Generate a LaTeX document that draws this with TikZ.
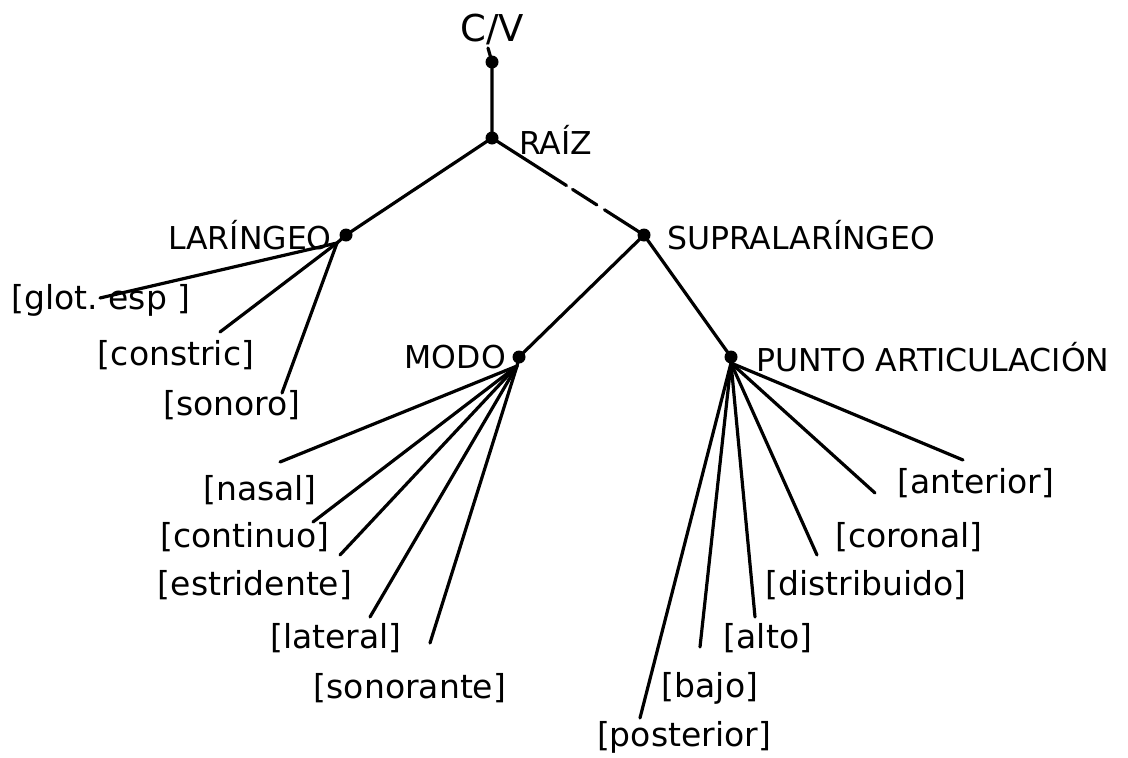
\documentclass[tikz,border=0pt]{standalone}
\usepackage{fontspec}
\setmainfont{DejaVu Sans}
\usetikzlibrary{calc}
\begin{document}
\begin{tikzpicture}[x=1pt,y=-1pt,
  branch/.style={line width=3.2pt,line cap=round},
  knot/.style={circle,fill=black,inner sep=0pt,minimum size=13pt},
  cat/.style={inner sep=0pt,font=\fontsize{31.5}{34}\selectfont},
  feat/.style={inner sep=0pt,font=\fontsize{33}{36}\selectfont}]
\useasboundingbox (0,0) rectangle (1128,758);

% category nodes
\node[inner sep=0pt,font=\fontsize{37}{40}\selectfont] (cv) at (492,29) {C/V};
\node[knot] (cvdot) at (492,62) {};
\node[knot] (raiz) at (492,138) {};
\node[cat,anchor=west] (raizl) at (519,140) {RAÍZ};
\node[knot] (lar) at (346,235) {};
\node[cat,anchor=east] (larl) at (332,235) {LARÍNGEO};
\node[knot] (sup) at (644,235) {};
\node[cat,anchor=west] (supl) at (667,235) {SUPRALARÍNGEO};
\node[knot] (modo) at (519,357) {};
\node[cat,anchor=east] (modol) at (506,357) {MODO};
\node[knot] (pa) at (731,357) {};
\node[cat,anchor=west] (pal) at (756,357) {PUNTO ARTICULACIÓN};

% hubs where the feature lines fan out
\coordinate (larh) at (337,243);
\coordinate (modoh) at (517,366);
\coordinate (pah) at (731,363);
\coordinate (cvtop) at (488,48);

% feature labels
\node[feat] (glot) at (101,300) {[glot.\ esp ]};
\node[feat] (constric) at (176,355) {[constric]};
\node[feat] (sonoro) at (232,405) {[sonoro]};
\node[feat] (nasal) at (260,490) {[nasal]};
\node[feat] (continuo) at (245,537) {[continuo]};
\node[feat] (estridente) at (255,585) {[estridente]};
\node[feat] (lateral) at (336,638) {[lateral]};
\node[feat] (sonorante) at (410,688) {[sonorante]};
\node[feat] (anterior) at (976,483) {[anterior]};
\node[feat] (coronal) at (909,537) {[coronal]};
\node[feat] (distribuido) at (866,585) {[distribuido]};
\node[feat] (alto) at (768,638) {[alto]};
\node[feat] (bajo) at (710,688) {[bajo]};
\node[feat] (posterior) at (684,737) {[posterior]};

% free ends of the feature lines
\coordinate (eglot) at (100,298);
\coordinate (econstric) at (220,332);
\coordinate (esonoro) at (282,393);
\coordinate (enasal) at (280,462);
\coordinate (econtinuo) at (313,522);
\coordinate (eestridente) at (340,555);
\coordinate (elateral) at (370,617);
\coordinate (esonorante) at (430,643);
\coordinate (eanterior) at (963,460);
\coordinate (ecoronal) at (875,493);
\coordinate (edistribuido) at (817,555);
\coordinate (ealto) at (755,617);
\coordinate (ebajo) at (700,647);
\coordinate (eposterior) at (640,718);

% tree
\draw[branch] (cvtop) -- (cvdot.center) -- (raiz.center);
\draw[branch] (raiz.center) -- (lar.center);
\draw[branch] (raiz.center) -- ($(raiz.center)!0.49!(sup.center)$);
\draw[branch] ($(raiz.center)!0.53!(sup.center)$) -- ($(raiz.center)!0.69!(sup.center)$);
\draw[branch] ($(raiz.center)!0.74!(sup.center)$) -- (sup.center);
\draw[branch] (sup.center) -- (modo.center);
\draw[branch] (sup.center) -- (pa.center);
\draw[branch] (lar.center) -- (larh);
\draw[branch] (modo.center) -- (modoh);
\draw[branch] (pa.center) -- (pah);

% features
\foreach \e in {eglot,econstric,esonoro}
  \draw[branch] (larh) -- (\e);
\foreach \e in {enasal,econtinuo,eestridente,elateral,esonorante}
  \draw[branch] (modoh) -- (\e);
\foreach \e in {eanterior,ecoronal,edistribuido,ealto,ebajo,eposterior}
  \draw[branch] (pah) -- (\e);
\end{tikzpicture}
\end{document}
